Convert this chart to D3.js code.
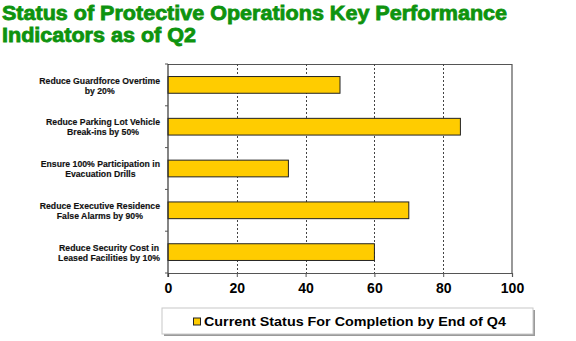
<!DOCTYPE html>
<html>
<head>
<meta charset="utf-8">
<script src="https://cdn.jsdelivr.net/npm/d3@7"></script>
<style>
  body { margin: 0; background: #fff; }
  svg { display: block; font-family: "Liberation Sans", Arial, sans-serif; }
</style>
</head>
<body>
<svg id="chart" width="576" height="341"></svg>
<script>
// KPI categories (each label split over two lines), top to bottom
const categories = [
  ["Reduce Guardforce Overtime", "by 20%"],
  ["Reduce Parking Lot Vehicle", "Break-ins by 50%"],
  ["Ensure 100% Participation in", "Evacuation Drills"],
  ["Reduce Executive Residence", "False Alarms by 90%"],
  ["Reduce Security Cost in", "Leased Facilities by 10%"]
];
const values = [50, 85, 35, 70, 60];
const xTicks = [0, 20, 40, 60, 80, 100];
const titleLines = ["Status of Protective Operations Key Performance", "Indicators as of Q2"];
const legendLabel = "Current Status For Completion by End of Q4";

const svg = d3.select("#chart");
const margin = { left: 168, right: 64, top: 64, bottom: 68 };
const W = 576, H = 341;

const x = d3.scaleLinear().domain([0, 100]).range([margin.left, W - margin.right]);
const y = d3.scaleBand().domain(d3.range(categories.length))
  .range([margin.top, H - margin.bottom]).paddingInner(0.6).paddingOuter(0.3);
const band = d3.scaleBand().domain(d3.range(categories.length))
  .range([margin.top, H - margin.bottom]);

// Title
const title = svg.append("g");
titleLines.forEach((t, i) => {
  title.append("text")
    .attr("x", 2).attr("y", 19.5 + i * 22.5)
    .attr("font-size", 20).attr("font-weight", 900)
    .attr("font-family", "'Liberation Sans', Arial, sans-serif")
    .attr("fill", "#0e930e")
    .attr("stroke", "#0e930e").attr("stroke-width", 0.8)
    .attr("textLength", i === 0 ? 505 : 194)
    .attr("lengthAdjust", "spacingAndGlyphs")
    .text(t);
});

// Plot frame (top and right borders)
svg.append("path")
  .attr("d", `M${x(0)},${margin.top + 0.5}H${x(100)}V${H - margin.bottom}`)
  .attr("fill", "none").attr("stroke", "#555").attr("stroke-width", 1.2);

// Dashed gridlines
svg.append("g").selectAll("line")
  .data(xTicks.filter(d => d > 0 && d < 100))
  .join("line")
  .attr("x1", d => Math.round(x(d)) + 0.5).attr("x2", d => Math.round(x(d)) + 0.5)
  .attr("y1", margin.top).attr("y2", H - margin.bottom)
  .attr("stroke", "#444").attr("stroke-dasharray", "2,2");

// Bars
svg.append("g").selectAll("rect")
  .data(values)
  .join("rect")
  .attr("x", x(0))
  .attr("y", (d, i) => y(i))
  .attr("width", d => x(d) - x(0))
  .attr("height", y.bandwidth())
  .attr("fill", "#ffcc00")
  .attr("stroke", "#222").attr("stroke-width", 1);

// Bottom axis
const xAxis = svg.append("g")
  .attr("transform", `translate(0,${H - margin.bottom})`)
  .call(d3.axisBottom(x).tickValues(xTicks).tickSize(4).tickPadding(6));
xAxis.select(".domain").attr("stroke", "#555").attr("stroke-width", 1.2);
xAxis.selectAll(".tick line").attr("stroke", "#555");
xAxis.selectAll("text")
  .attr("font-size", 14).attr("font-weight", "bold").attr("fill", "#000")
  .attr("font-family", "'Liberation Sans', Arial, sans-serif");

// Left axis with ticks at band boundaries
const yAxisG = svg.append("g");
yAxisG.append("line")
  .attr("x1", x(0)).attr("x2", x(0))
  .attr("y1", margin.top).attr("y2", H - margin.bottom + 4)
  .attr("stroke", "#333").attr("stroke-width", 1.2);
yAxisG.selectAll("line.tk")
  .data(d3.range(categories.length + 1))
  .join("line").attr("class", "tk")
  .attr("x1", x(0) - 3).attr("x2", x(0))
  .attr("y1", i => i < categories.length ? band(i) : band(categories.length - 1) + band.bandwidth())
  .attr("y2", i => i < categories.length ? band(i) : band(categories.length - 1) + band.bandwidth())
  .attr("stroke", "#555");

// Category labels: two centered lines, block right-aligned to the axis
const labels = svg.append("g");
categories.forEach((lines, i) => {
  const cy = y(i) + y.bandwidth() / 2;
  const g = labels.append("g");
  const texts = lines.map((t, j) => g.append("text")
    .attr("y", cy + (j === 0 ? -1.4 : 8.6))
    .attr("font-size", 8.7).attr("font-weight", "bold").attr("fill", "#111")
    .attr("stroke", "#111").attr("stroke-width", 0.15)
    .attr("text-anchor", "middle")
    .text(t));
  const maxW = d3.max(texts, t => t.node().getComputedTextLength());
  texts.forEach(t => t.attr("x", 160 - maxW / 2));
});

// Legend box with drop shadow
const lg = svg.append("g");
const lx = 162, ly = 308, lw = 371, lh = 26;
lg.append("rect").attr("x", lx + 2).attr("y", ly + 2).attr("width", lw).attr("height", lh)
  .attr("fill", "#9a9a9a");
lg.append("rect").attr("x", lx).attr("y", ly).attr("width", lw).attr("height", lh)
  .attr("fill", "#fff").attr("stroke", "#c8c8c8");
lg.append("rect").attr("x", 193.5).attr("y", 318).attr("width", 7).attr("height", 7)
  .attr("fill", "#ffcc00").attr("stroke", "#222");
lg.append("text").attr("x", 204).attr("y", 326)
  .attr("font-size", 13.6).attr("font-weight", "bold").attr("fill", "#000")
  .attr("textLength", 302).attr("lengthAdjust", "spacingAndGlyphs")
  .text(legendLabel);
</script>
</body>
</html>
